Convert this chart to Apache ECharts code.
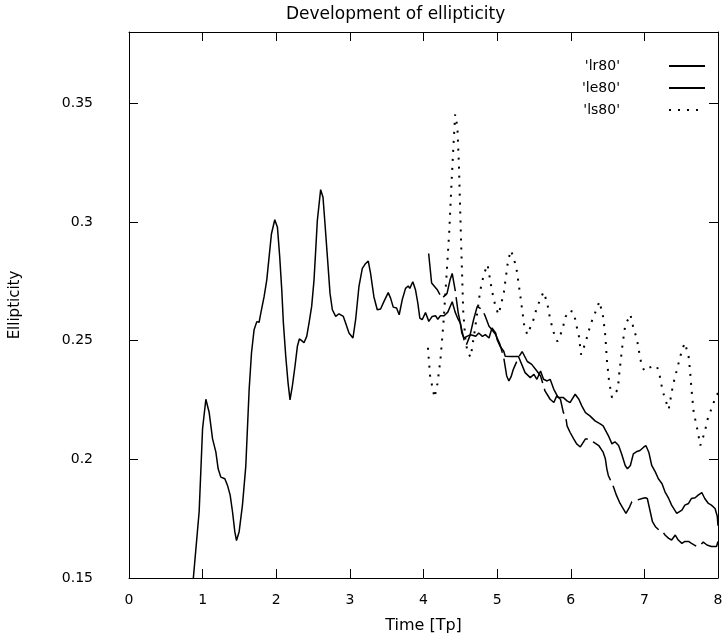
<!DOCTYPE html>
<html>
<head>
<meta charset="utf-8">
<script src="https://cdn.jsdelivr.net/npm/echarts@6/dist/echarts.min.js"></script>
<style>html,body{margin:0;padding:0;background:#fff}#c{width:726px;height:639px}</style>
</head>
<body>
<div id="c"></div>
<script>
var xTicks = [0,1,2,3,4,5,6,7,8];
var yTicks = [0.15,0.2,0.25,0.3,0.35];

var lr80 = [[0.86,0.145],[0.953,0.178],[0.999,0.2128],[1.044,0.2253],[1.089,0.2197],[1.135,0.2086],[1.18,0.203],[1.211,0.196],[1.247,0.1925],[1.302,0.1918],[1.338,0.189],[1.374,0.1849],[1.406,0.1779],[1.437,0.1695],[1.46,0.1658],[1.496,0.1695],[1.541,0.1807],[1.586,0.197],[1.632,0.2295],[1.664,0.2449],[1.699,0.2546],[1.736,0.258],[1.767,0.2577],[1.79,0.2616],[1.835,0.2685],[1.871,0.2755],[1.903,0.2853],[1.935,0.295],[1.98,0.3009],[2.016,0.2978],[2.047,0.2853],[2.075,0.2713],[2.097,0.2574],[2.129,0.2434],[2.16,0.2323],[2.187,0.225],[2.219,0.2309],[2.255,0.2393],[2.287,0.2476],[2.314,0.2507],[2.346,0.25],[2.377,0.2491],[2.414,0.2518],[2.445,0.2574],[2.481,0.2644],[2.513,0.2755],[2.536,0.2881],[2.558,0.3006],[2.603,0.3136],[2.635,0.3104],[2.662,0.2992],[2.70,0.283],[2.73,0.270],[2.762,0.263],[2.807,0.2602],[2.852,0.2613],[2.911,0.2602],[2.942,0.2574],[2.988,0.2532],[3.042,0.2511],[3.078,0.2588],[3.123,0.2727],[3.169,0.2804],[3.214,0.2825],[3.25,0.2835],[3.281,0.2783],[3.326,0.2685],[3.372,0.263],[3.417,0.2633],[3.462,0.2664],[3.521,0.2702],[3.553,0.2679],[3.589,0.2641],[3.634,0.2637],[3.67,0.2609],[3.711,0.2672],[3.756,0.272],[3.792,0.273],[3.814,0.272],[3.855,0.2748],[3.892,0.2713],[3.923,0.2658],[3.95,0.2595],[3.982,0.2588],[4.027,0.2618],[4.072,0.2581],[4.118,0.2602],[4.163,0.2605],[4.194,0.259],[4.23,0.2605],[4.28,0.2605],[4.33,0.262],[4.39,0.2664],[4.43,0.262],[4.47,0.259],[4.50,0.2574],[4.52,0.2532],[4.55,0.2511],[4.59,0.2518],[4.64,0.2525],[4.71,0.2518],[4.75,0.2532],[4.80,0.2518],[4.84,0.2525],[4.89,0.2511],[4.93,0.2553],[4.98,0.2532],[5.00,0.2504],[5.04,0.2476],[5.09,0.2455],[5.11,0.2434],[5.18,0.2433],[5.29,0.2433],[5.38,0.2365],[5.45,0.2344],[5.50,0.2358],[5.54,0.2337],[5.59,0.2372],[5.63,0.2337],[5.68,0.233],[5.72,0.2337],[5.77,0.2295],[5.83,0.226],[5.90,0.226],[5.95,0.2246],[5.99,0.2239],[6.06,0.2274],[6.11,0.2253],[6.15,0.2225],[6.20,0.2197],[6.26,0.2183],[6.33,0.2162],[6.40,0.2149],[6.44,0.2141],[6.51,0.21],[6.56,0.2065],[6.60,0.2074],[6.65,0.2058],[6.69,0.2023],[6.74,0.1974],[6.77,0.196],[6.81,0.1974],[6.85,0.2023],[6.90,0.2033],[6.94,0.2037],[6.99,0.2051],[7.02,0.2058],[7.06,0.203],[7.10,0.1974],[7.15,0.1946],[7.19,0.1918],[7.24,0.1897],[7.28,0.1863],[7.33,0.1835],[7.37,0.1807],[7.44,0.1772],[7.46,0.1772],[7.51,0.1786],[7.55,0.1807],[7.60,0.1814],[7.64,0.1835],[7.69,0.1838],[7.73,0.1849],[7.78,0.186],[7.80,0.1863],[7.82,0.1835],[7.87,0.1814],[7.91,0.1807],[7.96,0.1793],[7.99,0.176],[8.0,0.172]];

var le80 = [[4.07,0.2867],[4.11,0.2743],[4.19,0.2713],[4.25,0.2678],[4.32,0.2699],[4.36,0.2755],[4.39,0.2783],[4.43,0.2713],[4.47,0.262],[4.50,0.2574],[4.55,0.2504],[4.58,0.248],[4.63,0.252],[4.68,0.2588],[4.73,0.2644],[4.80,0.263],[4.84,0.2602],[4.89,0.256],[4.93,0.2546],[4.98,0.2525],[5.04,0.2483],[5.09,0.2428],[5.13,0.2351],[5.16,0.233],[5.19,0.2348],[5.22,0.2379],[5.29,0.2429],[5.34,0.2454],[5.41,0.2412],[5.47,0.24],[5.54,0.2372],[5.59,0.2351],[5.63,0.2309],[5.65,0.2288],[5.72,0.2253],[5.77,0.2239],[5.81,0.2267],[5.86,0.2253],[5.90,0.2197],[5.93,0.2183],[5.95,0.2141],[5.99,0.2114],[6.04,0.2086],[6.08,0.2065],[6.13,0.2052],[6.20,0.2086],[6.24,0.2086],[6.31,0.2072],[6.38,0.2058],[6.44,0.203],[6.47,0.2002],[6.49,0.196],[6.51,0.1932],[6.55,0.1905],[6.58,0.1884],[6.62,0.1849],[6.67,0.1814],[6.71,0.1793],[6.75,0.1772],[6.80,0.18],[6.83,0.1821],[6.90,0.1828],[6.97,0.1835],[7.01,0.1838],[7.04,0.1835],[7.08,0.1779],[7.11,0.1737],[7.15,0.1716],[7.20,0.1702],[7.25,0.1695],[7.28,0.1681],[7.33,0.1667],[7.37,0.166],[7.42,0.1681],[7.46,0.166],[7.51,0.1646],[7.55,0.1654],[7.60,0.1654],[7.64,0.1646],[7.71,0.1633],[7.76,0.1639],[7.80,0.1651],[7.85,0.1639],[7.91,0.1633],[7.98,0.1633],[8.0,0.1654]];

var ls80 = [[4.06,0.247],[4.09,0.235],[4.15,0.226],[4.19,0.232],[4.23,0.242],[4.27,0.257],[4.31,0.276],[4.35,0.296],[4.38,0.316],[4.41,0.334],[4.43,0.3453],[4.46,0.340],[4.48,0.325],[4.50,0.303],[4.52,0.282],[4.54,0.262],[4.57,0.250],[4.60,0.245],[4.64,0.243],[4.70,0.255],[4.77,0.271],[4.82,0.278],[4.87,0.282],[4.93,0.271],[4.98,0.264],[5.02,0.261],[5.09,0.270],[5.15,0.284],[5.19,0.288],[5.26,0.281],[5.31,0.270],[5.37,0.256],[5.41,0.2525],[5.49,0.2585],[5.54,0.264],[5.63,0.2705],[5.68,0.266],[5.72,0.259],[5.79,0.251],[5.82,0.2497],[5.88,0.254],[5.93,0.260],[5.98,0.2627],[6.04,0.262],[6.08,0.256],[6.11,0.252],[6.14,0.2441],[6.20,0.249],[6.27,0.257],[6.31,0.260],[6.39,0.2665],[6.44,0.260],[6.47,0.252],[6.49,0.242],[6.52,0.233],[6.56,0.226],[6.64,0.2295],[6.66,0.2365],[6.70,0.2475],[6.74,0.2565],[6.81,0.261],[6.85,0.2555],[6.90,0.2505],[6.93,0.245],[6.96,0.240],[7.00,0.2372],[7.06,0.2385],[7.12,0.2393],[7.17,0.2393],[7.21,0.235],[7.24,0.230],[7.27,0.2265],[7.33,0.221],[7.39,0.2315],[7.44,0.2375],[7.51,0.246],[7.55,0.249],[7.60,0.2435],[7.62,0.2375],[7.64,0.2295],[7.67,0.2197],[7.71,0.2141],[7.76,0.2058],[7.82,0.2115],[7.86,0.217],[7.96,0.2255],[8.0,0.228]];

var FONT = 'DejaVu Sans';
var chart = echarts.init(document.getElementById('c'), null, {renderer: 'canvas'});

function labelFmt(v) {
  var r = Math.round(v * 100) / 100;
  return String(r);
}

function tick() {
  return {show: true, inside: false, length: -9, lineStyle: {color: '#000', width: 1}};
}
function line() {
  return {show: true, onZero: false, lineStyle: {color: '#000', width: 1}};
}

var option = {
  animation: false,
  backgroundColor: '#fff',
  title: {
    text: 'Development of ellipticity',
    left: 281, top: 1,
    textStyle: {fontFamily: FONT, fontSize: 17, fontWeight: 'normal', color: '#000'}
  },
  legend: {
    orient: 'vertical', right: 15, top: 54, align: 'right',
    itemWidth: 36, itemHeight: 14, itemGap: 8,
    data: ["'lr80'", "'le80'", "'ls80'"],
    itemStyle: {opacity: 0},
    textStyle: {fontFamily: FONT, fontSize: 14, color: '#000', padding: [0, 44, 0, 0]}
  },
  grid: {left: 128, right: 8, top: 32, bottom: 59, containLabel: false},
  xAxis: [
    {type: 'value', position: 'bottom', min: xTicks[0], max: xTicks[xTicks.length - 1], interval: 1,
      axisLine: line(), axisTick: tick(), splitLine: {show: false},
      name: 'Time [Tp]', nameLocation: 'middle', nameGap: 40,
      nameTextStyle: {fontFamily: FONT, fontSize: 16, color: '#000'},
      axisLabel: {show: true, margin: 15, color: '#000', fontFamily: FONT, fontSize: 14}},
    {type: 'value', position: 'top', min: xTicks[0], max: xTicks[xTicks.length - 1], interval: 1,
      axisLine: line(), axisTick: tick(), splitLine: {show: false}, axisLabel: {show: false}}
  ],
  yAxis: [
    {type: 'value', position: 'left', min: yTicks[0], max: 0.38, interval: 0.05,
      axisLine: line(), axisTick: tick(), splitLine: {show: false},
      name: 'Ellipticity', nameLocation: 'middle', nameGap: 106, nameRotate: 90,
      nameTextStyle: {fontFamily: FONT, fontSize: 15, color: '#000'},
      axisLabel: {show: true, showMaxLabel: false, margin: 36, color: '#000', fontFamily: FONT, fontSize: 14, formatter: labelFmt}},
    {type: 'value', position: 'right', min: yTicks[0], max: 0.38, interval: 0.05,
      axisLine: line(), axisTick: tick(), splitLine: {show: false}, axisLabel: {show: false}}
  ],
  series: [
    {name: "'lr80'", type: 'line', data: lr80, symbol: 'none', showSymbol: false, clip: true,
      xAxisIndex: 0, yAxisIndex: 0,
      lineStyle: {color: '#000', width: 1.5, type: 'solid'}, itemStyle: {color: '#000', opacity: 0}},
    {name: "'le80'", type: 'line', data: le80, symbol: 'none', showSymbol: false, clip: true,
      xAxisIndex: 0, yAxisIndex: 0,
      lineStyle: {color: '#000', width: 1.5, type: [44, 6]}, itemStyle: {color: '#000', opacity: 0}},
    {name: "'ls80'", type: 'line', data: ls80, symbol: 'none', showSymbol: false, clip: true,
      xAxisIndex: 0, yAxisIndex: 0,
      lineStyle: {color: '#000', width: 2, type: [2, 7]}, itemStyle: {color: '#000', opacity: 0}}
  ]
};
chart.setOption(option);
</script>
</body>
</html>
